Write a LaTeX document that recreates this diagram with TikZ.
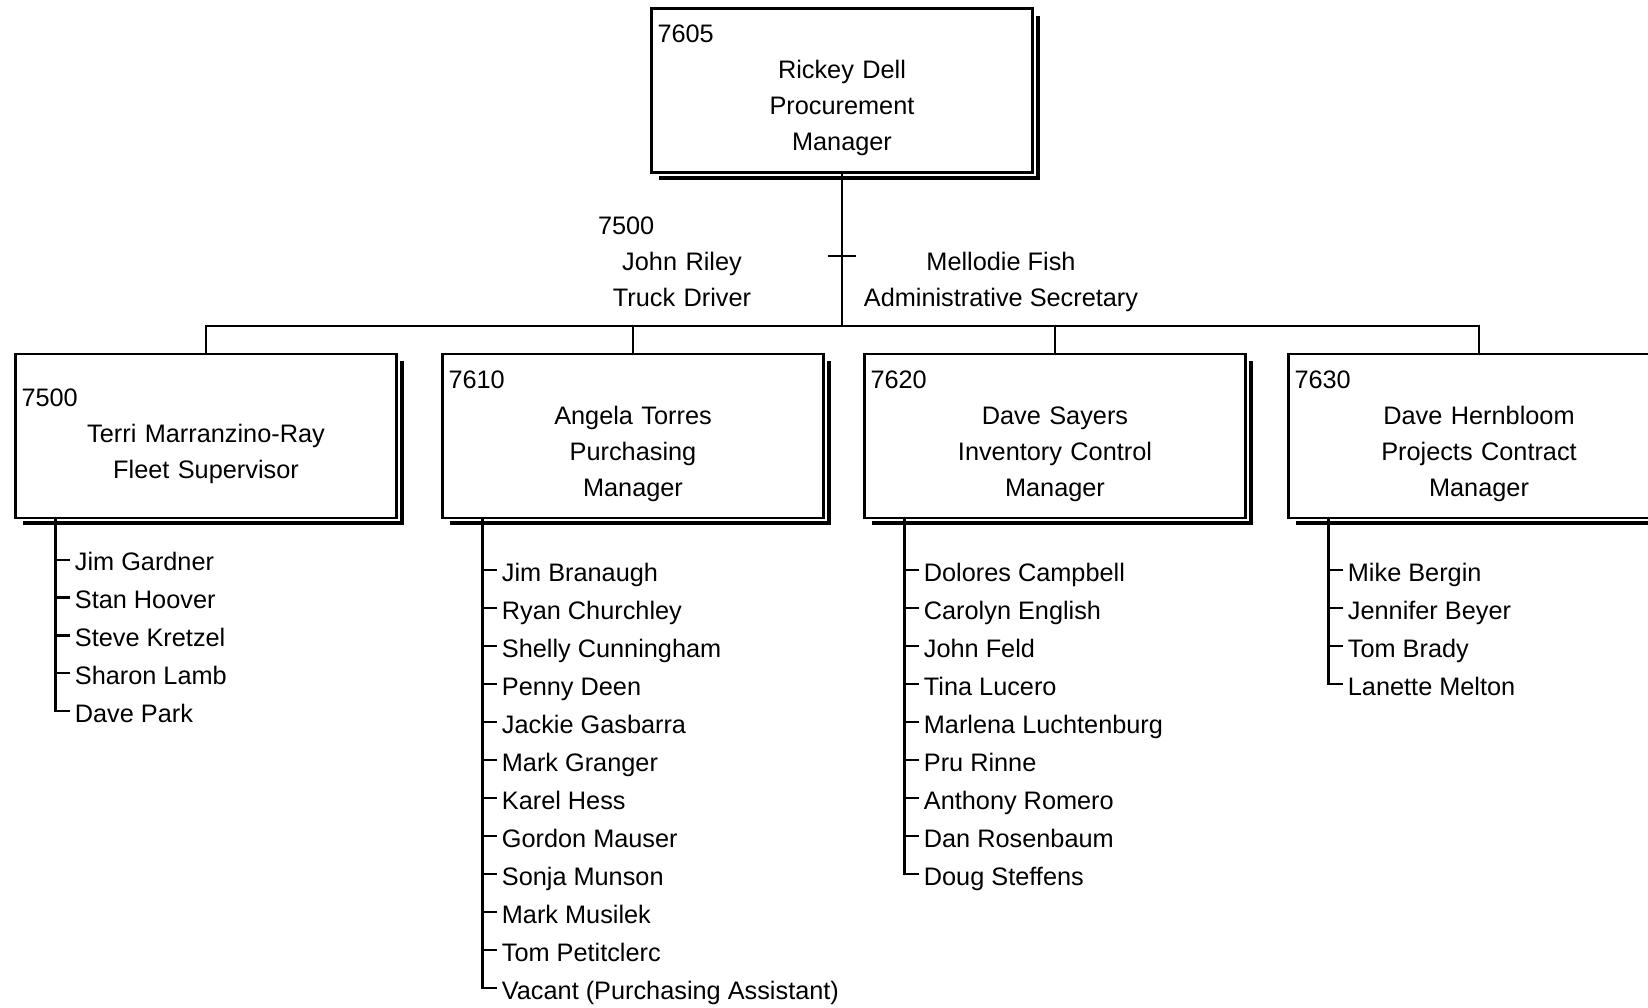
\documentclass[tikz,border=0pt]{standalone}
\usepackage{fontspec}
\setmainfont{Liberation Sans}
\usetikzlibrary{shadows}
\newcommand\deptno[1]{\noindent\makebox[\hsize][l]{#1}}

\begin{document}
\begin{tikzpicture}[
	x=0.5pt, y=-0.5pt,
	font=\fontsize{12.65}{18}\selectfont,
	unit/.style={
		rectangle,
		draw,
		line width=1.2pt,
		fill=white,
		drop shadow={shadow xshift=3.6pt, shadow yshift=-3.6pt, fill=black, opacity=1},
		preaction={draw=white, line width=3pt},
		minimum width=190.5pt,
		minimum height=82pt,
		text width=184.5pt,
		inner xsep=3pt,
		align=center,
	},
	member/.style={% list entries under a box
		anchor=west,
		inner xsep=2.5pt,
		inner ysep=0pt,
		text height=12pt,
		text depth=1pt,
	},
	link/.style={line width=1.2pt},
]
	\path [use as bounding box, fill=white] (0,0) rectangle (1648,1007);

	\node [unit] (mgr) at (842,90.5) {\deptno{7605}\\Rickey Dell\\Procurement\\Manager};
	\node [unit] (fleet) at (206,436) {\deptno{7500}\\Terri Marranzino-Ray\\Fleet Supervisor};
	\node [unit] (purch) at (633,436) {\deptno{7610}\\Angela Torres\\Purchasing\\Manager};
	\node [unit] (inv) at (1055,436) {\deptno{7620}\\Dave Sayers\\Inventory Control\\Manager};
	\node [unit] (proj) at (1479,436) {\deptno{7630}\\Dave Hernbloom\\Projects Contract\\Manager};

	% assistants
	\node [align=center, text width=84pt, inner sep=0pt] (riley) at (682,262) {\deptno{7500}\\John Riley\\Truck Driver};
	\node [align=center, inner sep=0pt] (fish) at (1001,282) {Mellodie Fish\\Administrative Secretary};

	\coordinate (bar) at (842,326);
	\coordinate (asst) at (842,256);

	\draw [link] (mgr.south) -- (bar);
	\draw [link] (fleet.north) |- (bar) -| (proj.north);
	\draw [link] (purch.north) -- (purch.north |- bar);
	\draw [link] (inv.north) -- (inv.north |- bar);
	\draw [link] ([xshift=-7pt]asst) -- ([xshift=7pt]asst);

	% staff lists
	\coordinate (flsp) at ([xshift=20.5pt]fleet.south west);
	\coordinate (pusp) at ([xshift=20.5pt]purch.south west);
	\coordinate (insp) at ([xshift=20.5pt]inv.south west);
	\coordinate (prsp) at ([xshift=20.5pt]proj.south west);

	\foreach \who [count=\i] in {Jim Gardner,Stan Hoover,Steve Kretzel,Sharon Lamb,Dave Park}
		\node [member] (fl\i) at (69.5,{522+37.8*\i}) {\who};
	\foreach \i in {1,...,4}
		\draw [link] (fl\i.west) -- (fl\i.west -| flsp);
	\draw [link] (flsp) |- (fl5.west);

	\foreach \who [count=\i] in {Jim Branaugh,Ryan Churchley,Shelly Cunningham,Penny Deen,Jackie Gasbarra,Mark Granger,Karel Hess,Gordon Mauser,Sonja Munson,Mark Musilek,Tom Petitclerc,{Vacant (Purchasing Assistant)}}
		\node [member] (pu\i) at (496.5,{532+38*\i}) {\who};
	\foreach \i in {1,...,11}
		\draw [link] (pu\i.west) -- (pu\i.west -| pusp);
	\draw [link] (pusp) |- (pu12.west);

	\foreach \who [count=\i] in {Dolores Campbell,Carolyn English,John Feld,Tina Lucero,Marlena Luchtenburg,Pru Rinne,Anthony Romero,Dan Rosenbaum,Doug Steffens}
		\node [member] (in\i) at (918.5,{532+38*\i}) {\who};
	\foreach \i in {1,...,8}
		\draw [link] (in\i.west) -- (in\i.west -| insp);
	\draw [link] (insp) |- (in9.west);

	\foreach \who [count=\i] in {Mike Bergin,Jennifer Beyer,Tom Brady,Lanette Melton}
		\node [member] (pr\i) at (1342.5,{532+38*\i}) {\who};
	\foreach \i in {1,...,3}
		\draw [link] (pr\i.west) -- (pr\i.west -| prsp);
	\draw [link] (prsp) |- (pr4.west);
\end{tikzpicture}
\end{document}
